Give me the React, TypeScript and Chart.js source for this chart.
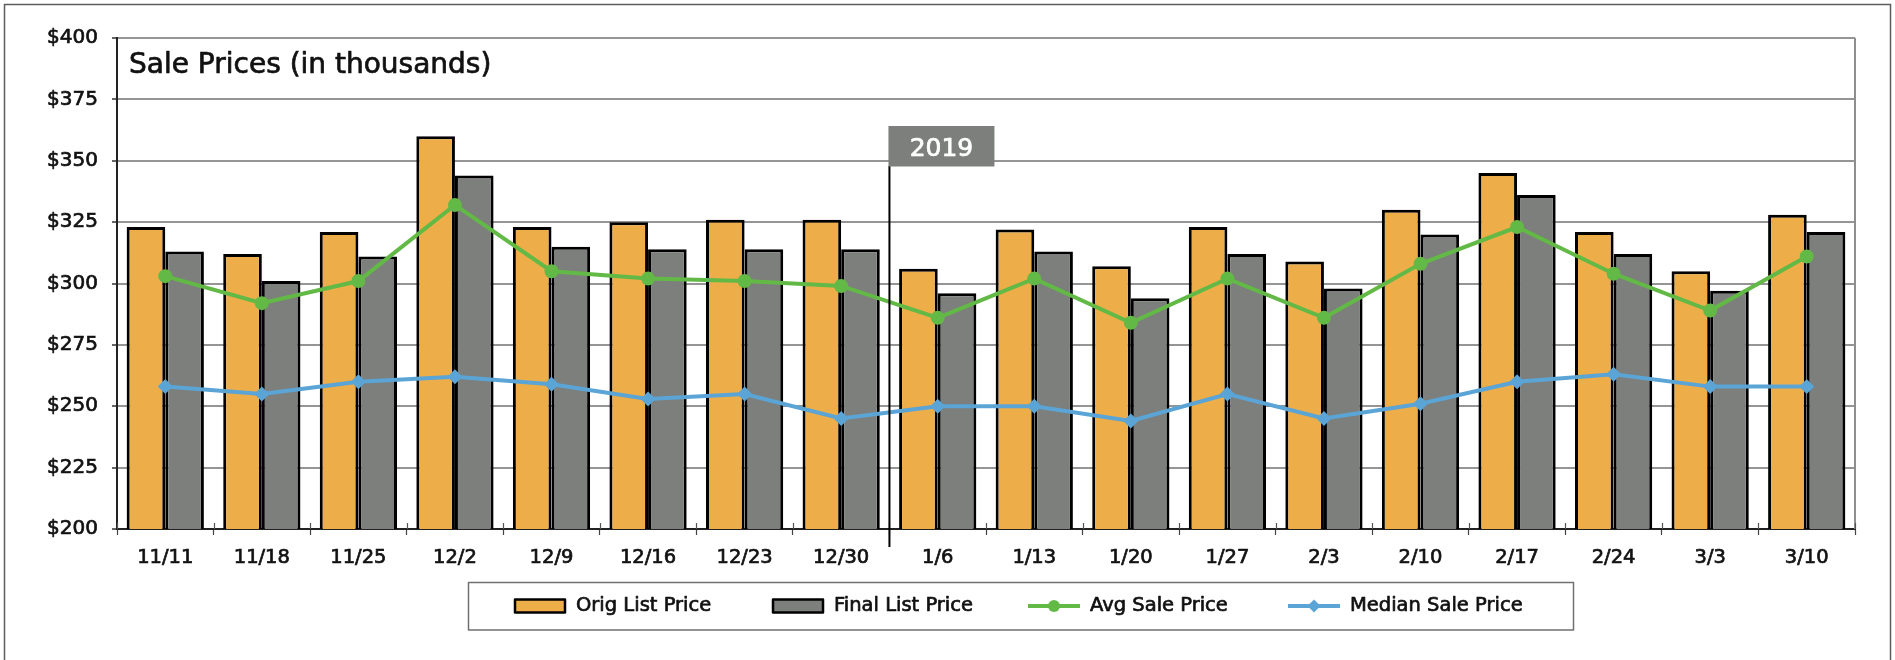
import React, { useEffect, useRef } from 'react';
import { Chart, registerables } from 'chart.js';

Chart.register(...registerables);

const categories = ['11/11', '11/18', '11/25', '12/2', '12/9', '12/16', '12/23', '12/30', '1/6', '1/13', '1/20', '1/27', '2/3', '2/10', '2/17', '2/24', '3/3', '3/10'];
const origListPrice = [323, 312, 321, 360, 323, 325, 326, 326, 306, 322, 307, 323, 309, 330, 345, 321, 305, 328];
const finalListPrice = [313, 301, 311, 344, 315, 314, 314, 314, 296, 313, 294, 312, 298, 320, 336, 312, 297, 321];
const avgSalePrice = [303, 292, 301, 332, 305, 302, 301, 299, 286, 302, 284, 302, 286, 308, 323, 304, 289, 311];
const medianSalePrice = [258, 255, 260, 262, 259, 253, 255, 245, 250, 250, 244, 255, 245, 251, 260, 263, 258, 258];

const yMin = 200;
const yMax = 400;
const yStep = 25;
const chartTitle = 'Sale Prices (in thousands)';
const yearLabel = '2019';
const yearStartIndex = 8;

const FONT = 'DejaVu Sans';
const ORANGE = '#edad48';
const GRAY = '#7c7f7c';
const GREEN = '#63b946';
const BLUE = '#5ba4d6';
const TEXT = '#111';
const STROKE_W = 0.7;

const boldText = (ctx: any, text: string, x: number, y: number, color: string) => {
  ctx.fillStyle = color;
  ctx.strokeStyle = color;
  ctx.lineWidth = STROKE_W;
  ctx.lineJoin = 'round';
  ctx.fillText(text, x, y);
  ctx.strokeText(text, x, y);
};

const decorPlugin = {
  id: 'decor',
  beforeDraw(chart: any) {
    const ctx = chart.ctx;
    ctx.save();
    ctx.fillStyle = '#ffffff';
    ctx.fillRect(0, 0, chart.width, chart.height);
    ctx.strokeStyle = '#5c5c5c';
    ctx.lineWidth = 1.5;
    ctx.beginPath();
    ctx.moveTo(4.5, chart.height + 20);
    ctx.lineTo(4.5, 4.5);
    ctx.lineTo(1890.5, 4.5);
    ctx.lineTo(1890.5, chart.height + 20);
    ctx.stroke();
    ctx.restore();
  },
  beforeDatasetsDraw(chart: any) {
    const ctx = chart.ctx;
    const area = chart.chartArea;
    ctx.save();
    ctx.font = `28px "${FONT}"`;
    ctx.textAlign = 'left';
    ctx.textBaseline = 'alphabetic';
    boldText(ctx, chartTitle, area.left + 12, area.top + 35, TEXT);
    ctx.restore();
  },
  afterDraw(chart: any) {
    const ctx = chart.ctx;
    const area = chart.chartArea;
    const xs = chart.scales.x;
    ctx.save();
    ctx.strokeStyle = '#8e8e8e';
    ctx.lineWidth = 2;
    ctx.beginPath();
    ctx.moveTo(area.right, area.top);
    ctx.lineTo(area.right, area.bottom);
    ctx.stroke();

    const n = categories.length;
    const w = (area.right - area.left) / n;
    ctx.strokeStyle = '#555';
    ctx.lineWidth = 1.2;
    for (let i = 0; i <= n; i++) {
      const x = Math.round(area.left + i * w) + 0.5;
      ctx.beginPath();
      ctx.moveTo(x, area.bottom - 6);
      ctx.lineTo(x, area.bottom);
      ctx.stroke();
    }

    const lineX = (xs.getPixelForValue(yearStartIndex - 1) + xs.getPixelForValue(yearStartIndex)) / 2;
    ctx.strokeStyle = '#000';
    ctx.lineWidth = 2;
    ctx.beginPath();
    ctx.moveTo(lineX, 166);
    ctx.lineTo(lineX, area.bottom + 18);
    ctx.stroke();
    ctx.fillStyle = GRAY;
    ctx.fillRect(lineX - 1, 126, 106, 40.5);
    ctx.font = `25px "${FONT}"`;
    ctx.textAlign = 'center';
    ctx.textBaseline = 'alphabetic';
    boldText(ctx, yearLabel, lineX + 52, 156, '#fff');

    const ly = 606;
    ctx.strokeStyle = '#707070';
    ctx.lineWidth = 1.5;
    ctx.strokeRect(468.5, 582.5, 1105, 47.5);
    ctx.font = `19.5px "${FONT}"`;
    ctx.textAlign = 'left';
    ctx.textBaseline = 'middle';
    const ds = chart.data.datasets;
    const drawSwatch = (x: number, color: string) => {
      ctx.fillStyle = color;
      ctx.fillRect(x, ly - 6.5, 50, 13);
      ctx.strokeStyle = '#000';
      ctx.lineWidth = 2.5;
      ctx.strokeRect(x, ly - 6.5, 50, 13);
    };
    drawSwatch(515, ORANGE);
    boldText(ctx, ds[2].label, 576, ly, TEXT);
    drawSwatch(773, GRAY);
    boldText(ctx, ds[3].label, 834, ly, TEXT);
    ctx.strokeStyle = GREEN;
    ctx.lineWidth = 4;
    ctx.beginPath();
    ctx.moveTo(1028, ly);
    ctx.lineTo(1080, ly);
    ctx.stroke();
    ctx.fillStyle = GREEN;
    ctx.beginPath();
    ctx.arc(1054, ly, 6, 0, Math.PI * 2);
    ctx.fill();
    boldText(ctx, ds[0].label, 1090, ly, TEXT);
    ctx.strokeStyle = BLUE;
    ctx.lineWidth = 4;
    ctx.beginPath();
    ctx.moveTo(1288, ly);
    ctx.lineTo(1340, ly);
    ctx.stroke();
    ctx.fillStyle = BLUE;
    ctx.beginPath();
    ctx.moveTo(1314 - 6.5, ly);
    ctx.lineTo(1314, ly - 6.5);
    ctx.lineTo(1314 + 6.5, ly);
    ctx.lineTo(1314, ly + 6.5);
    ctx.closePath();
    ctx.fill();
    boldText(ctx, ds[1].label, 1350, ly, TEXT);
    ctx.restore();
  },
};

export default function App() {
  const canvasRef = useRef<HTMLCanvasElement | null>(null);

  useEffect(() => {
    document.body.style.margin = '0';
    const canvas = canvasRef.current;
    if (!canvas) return;
    const chart = new Chart(canvas, {
      type: 'bar',
      data: {
        labels: categories,
        datasets: [
          {
            type: 'line',
            label: 'Avg Sale Price',
            data: avgSalePrice,
            borderColor: GREEN,
            backgroundColor: GREEN,
            borderWidth: 4,
            pointStyle: 'circle',
            pointRadius: 7,
            pointBorderWidth: 0,
            pointBackgroundColor: GREEN,
            tension: 0,
            order: 1,
          },
          {
            type: 'line',
            label: 'Median Sale Price',
            data: medianSalePrice,
            borderColor: BLUE,
            backgroundColor: BLUE,
            borderWidth: 4,
            pointStyle: 'rectRot',
            pointRadius: 7.5,
            pointBorderWidth: 0,
            pointBackgroundColor: BLUE,
            tension: 0,
            order: 1,
          },
          {
            type: 'bar',
            label: 'Orig List Price',
            data: origListPrice,
            backgroundColor: ORANGE,
            borderColor: '#000',
            borderWidth: 3,
            categoryPercentage: 0.8,
            barPercentage: 1.0,
            order: 2,
          },
          {
            type: 'bar',
            label: 'Final List Price',
            data: finalListPrice,
            backgroundColor: GRAY,
            borderColor: '#000',
            borderWidth: 3,
            categoryPercentage: 0.8,
            barPercentage: 1.0,
            order: 2,
          },
        ],
      } as any,
      options: {
        responsive: false,
        maintainAspectRatio: false,
        devicePixelRatio: 1,
        animation: false,
        events: [],
        layout: { padding: { top: 38, right: 40, left: 0, bottom: 0 } },
        plugins: {
          legend: { display: false },
          tooltip: { enabled: false },
          title: { display: false },
        },
        scales: {
          x: {
            offset: true,
            grid: {
              offset: true,
              drawOnChartArea: false,
              drawTicks: true,
              tickLength: 6,
              tickColor: '#444',
              tickWidth: 1.2,
            },
            border: { color: '#222', width: 2 },
            ticks: {
              font: { family: FONT, size: 19.5 },
              color: TEXT,
              textStrokeColor: TEXT,
              textStrokeWidth: STROKE_W,
              padding: 11,
              maxRotation: 0,
              autoSkip: false,
            },
            afterFit: (s: any) => {
              s.height = 131;
            },
          },
          y: {
            min: yMin,
            max: yMax,
            ticks: {
              stepSize: yStep,
              callback: (v: any) => '$' + v,
              font: { family: FONT, size: 20 },
              color: TEXT,
              textStrokeColor: TEXT,
              textStrokeWidth: STROKE_W,
              padding: 14,
            },
            grid: {
              color: (c: any) => (c.tick && c.tick.value === yMin ? 'rgba(0,0,0,0)' : '#959595'),
              lineWidth: 2,
              tickLength: 5,
              tickColor: '#333',
              tickWidth: 1.5,
            },
            border: { color: '#222', width: 2 },
            afterFit: (s: any) => {
              s.width = 117;
            },
          },
        },
      } as any,
      plugins: [decorPlugin],
    });
    return () => {
      chart.destroy();
    };
  }, []);

  return (
    <div style={{ width: 1895, height: 660, position: 'relative' }}>
      <canvas ref={canvasRef} width={1895} height={660} style={{ display: 'block', width: 1895, height: 660 }} />
    </div>
  );
}
